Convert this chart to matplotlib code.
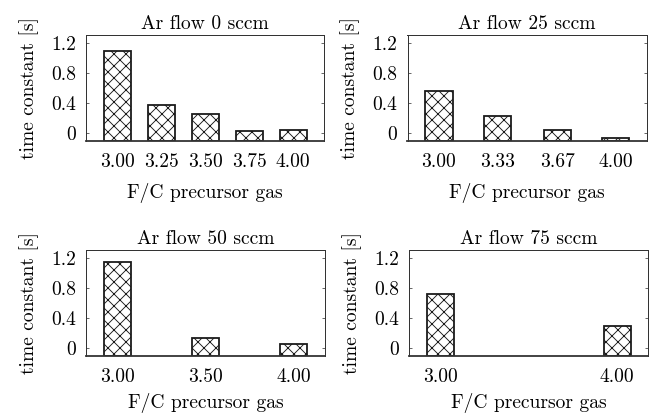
import numpy as np
import matplotlib
matplotlib.use("Agg")
import matplotlib.pyplot as plt

# F/C ratio of precursor gas per Ar flow, and measured time constants [s]
titles = ["Ar flow 0 sccm", "Ar flow 25 sccm", "Ar flow 50 sccm", "Ar flow 75 sccm"]
fc_0 = [3.00, 3.25, 3.50, 3.75, 4.00]
tau_0 = [1.09, 0.37, 0.25, 0.03, 0.04]
fc_25 = [3.00, 3.33, 3.67, 4.00]
tau_25 = [0.56, 0.23, 0.045, -0.065]
fc_50 = [3.00, 3.50, 4.00]
tau_50 = [1.14, 0.13, 0.06]
fc_75 = [3.00, 4.00]
tau_75 = [0.72, 0.29]
yticks = [0, 0.4, 0.8, 1.2]
ytick_labels = ["0", "0.4", "0.8", "1.2"]

plt.rcParams['font.family'] = ['cmr10', 'DejaVu Serif']
plt.rcParams['hatch.linewidth'] = 0.9
plt.rcParams['hatch.color'] = '#1a1a1a'

fig = plt.figure(figsize=(652 / 72, 416 / 72), dpi=72)

boxes = [
    [0.132, 0.6615, 0.365, 0.2543],
    [0.625, 0.6615, 0.367, 0.2543],
    [0.132, 0.145, 0.366, 0.2536],
    [0.627, 0.145, 0.367, 0.2536],
]
xlabel_pads = [12, 12, 7, 7]
data = [(fc_0, tau_0), (fc_25, tau_25), (fc_50, tau_50), (fc_75, tau_75)]
ymin, ymax = -0.1, 1.3
fs = 19.5

for box, title, (xs, ys), lp in zip(boxes, titles, data, xlabel_pads):
    ax = fig.add_axes(box)
    heights = np.array(ys) - ymin
    ax.bar(xs, heights, bottom=ymin, width=0.153, color='white',
           edgecolor='#1a1a1a', linewidth=1.8, hatch='xx', zorder=2)
    ax.set_xlim(2.822, 4.175)
    ax.set_ylim(ymin, ymax)
    ax.set_xticks(xs)
    ax.set_xticklabels([f"{x:.2f}" for x in xs])
    ax.set_yticks(yticks)
    ax.set_yticklabels(ytick_labels)
    ax.tick_params(axis='x', length=0, pad=12, labelsize=fs)
    ax.tick_params(axis='y', direction='in', length=3, width=0.8, color='#444444',
                   right=True, pad=10, labelsize=fs)
    for s in ['top', 'left', 'right']:
        ax.spines[s].set_linewidth(1.0)
        ax.spines[s].set_color('#333333')
    ax.spines['bottom'].set_linewidth(1.8)
    ax.spines['bottom'].set_color('#333333')
    ax.set_title(title, fontsize=fs, pad=6)
    ax.set_xlabel("F/C precursor gas", fontsize=fs, labelpad=lp)
    ax.set_ylabel("time constant [s]", fontsize=fs, labelpad=12)

fig.savefig("out.png", dpi=72)
